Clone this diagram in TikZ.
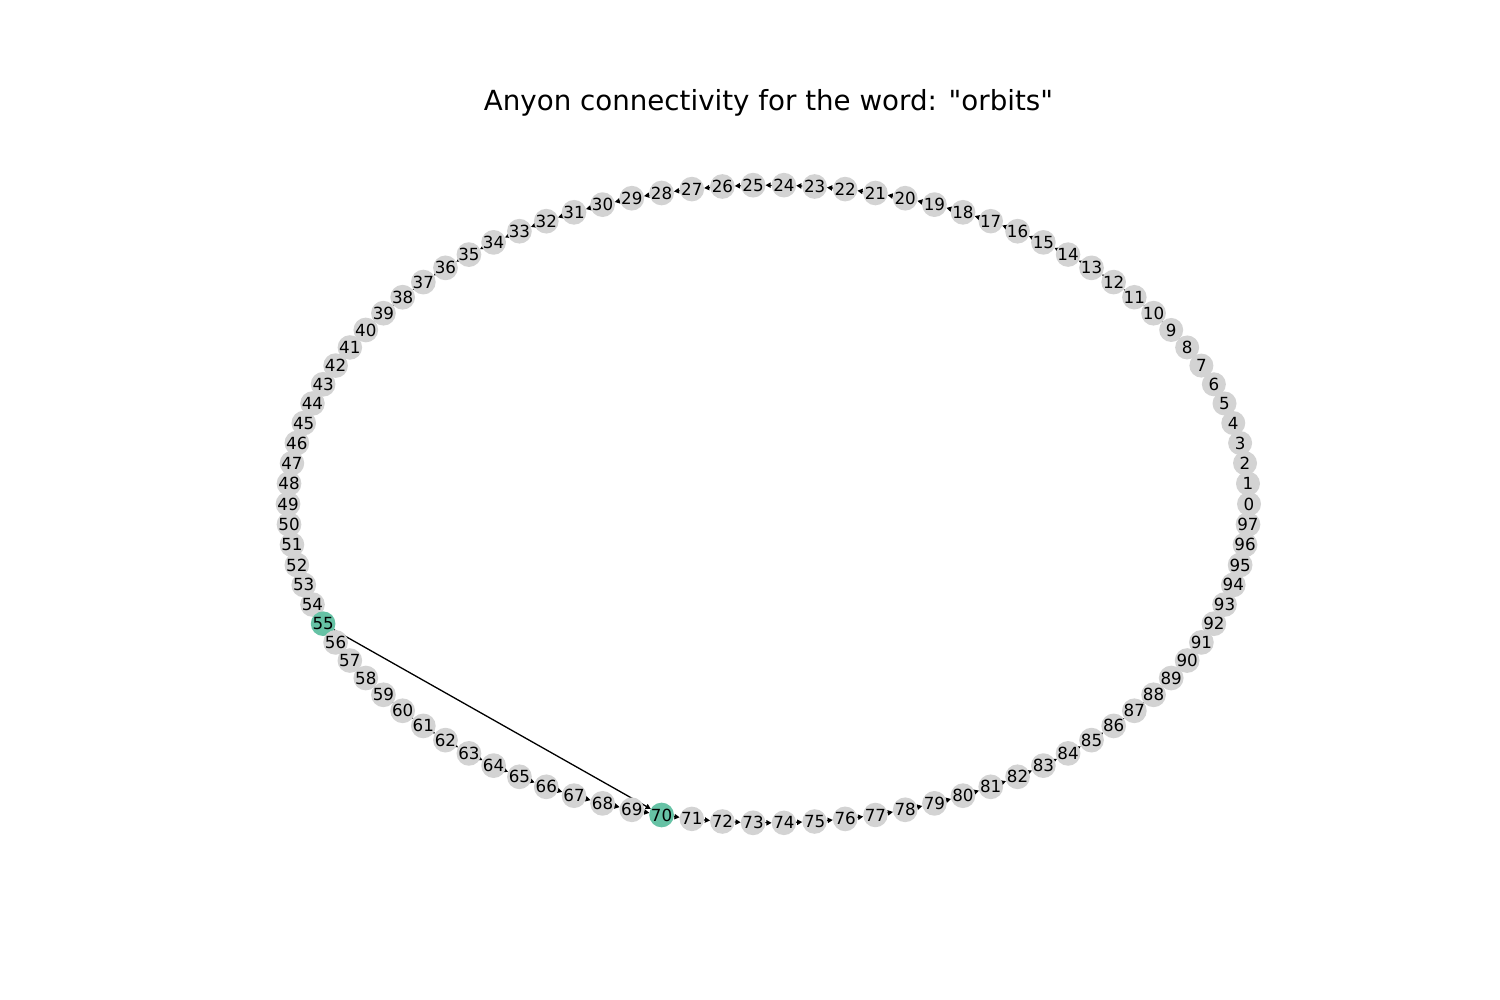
\documentclass[tikz,border=0pt]{standalone}
\usepackage{fontspec}
\setmainfont{DejaVu Sans}
\newfontfamily\plainsans{DejaVu Sans}
\usetikzlibrary{arrows.meta,backgrounds}
\definecolor{ngray}{HTML}{D3D3D3}
\definecolor{ngreen}{HTML}{66C2A5}
\tikzset{
  vert/.style={circle,minimum size=24pt,inner sep=0pt,outer sep=0pt,font=\plainsans\fontsize{16.7}{19}\selectfont},
  edge/.style={line width=1.3pt,-{Triangle[length=5.2pt,width=5.2pt]}},
  title/.style={font=\plainsans\fontsize{27.7}{32}\selectfont}
}
\begin{document}
\begin{tikzpicture}[x=1pt,y=-1pt]
\useasboundingbox (0,0) rectangle (1500,1000);
\node[title] (title) at (768.5,103) {Anyon connectivity for the word: "orbits"};
\foreach \i in {0,...,97}{
  \ifnum\i=55 \def\col{ngreen}\else\ifnum\i=70 \def\col{ngreen}\else\def\col{ngray}\fi\fi
  \pgfmathsetmacro\a{3.673469388*\i}
  \node[vert,fill=\col] (n\i) at ({768.5+480.5*cos(\a)},{504-319*sin(\a)}) {\i};
}
\begin{scope}[on background layer]
\foreach \i in {0,...,96}{
  \pgfmathtruncatemacro\j{\i+1}
  \draw[edge] (n\i) -- (n\j);
}
\draw[edge] (n55) -- (n70);
\end{scope}
\end{tikzpicture}
\end{document}
